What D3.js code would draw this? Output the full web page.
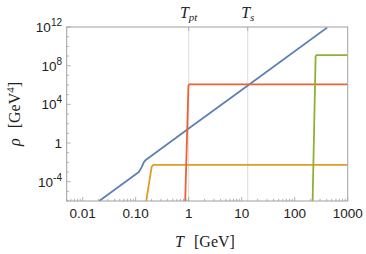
<!DOCTYPE html>
<html>
<head>
<meta charset="utf-8">
<script src="https://cdn.jsdelivr.net/npm/d3@7"></script>
<style>
body { margin: 0; background: #fff; }
svg { display: block; }
</style>
</head>
<body>
<svg width="366" height="254"></svg>
<script>
// valores (T em GeV, rho em GeV^4)
var azulT   = [0.0205, 0.05, 0.115, 0.13, 0.142, 0.155, 1, 10, 410];
var azulRho = [1e-6, 3.5e-5, 1.0e-3, 3.2e-3, 1.0e-2, 1.78e-2, 31, 3.1e5, 8.7e11];
var laranjaT   = [0.148, 0.2, 0.212, 0.225, 1000];
var laranjaRho = [1e-7, 3.2e-3, 5.2e-3, 5.5e-3, 5.5e-3];
var vermelhoT   = [0.85, 0.99, 1.02, 1000];
var vermelhoRho = [1e-7, 8e5, 1.15e6, 1.15e6];
var verdeT   = [216, 248, 256, 1000];
var verdeRho = [1e-7, 8e8, 1.26e9, 1.26e9];

var xTicks = [0.01, 0.1, 1, 10, 100, 1000];
var xTickLabels = ['0.01', '0.10', '1', '10', '100', '1000'];
var yTicks = [1e-4, 1, 1e4, 1e8, 1e12];
var yTickExp = ['-4', '', '4', '8', '12'];
var Tpt = 1, Ts = 13;

var svg = d3.select('svg');
var x = d3.scaleLog().domain([0.005, 1000]).range([66.7, 347.7]);
var y = d3.scaleLog().domain([1e-6, 1e12]).range([201, 27]);
var cinza = '#a0a0a0';

svg.append('clipPath').attr('id', 'area').append('rect')
    .attr('x', 66.7).attr('y', 27).attr('width', 281).attr('height', 174);

// linhas de grade em Tpt e Ts
[Tpt, Ts].forEach(function(t) {
    svg.append('line').attr('x1', x(t)).attr('x2', x(t)).attr('y1', 27).attr('y2', 201)
        .attr('stroke', '#dcdcdc').attr('stroke-width', 1);
});

//Curvas:
function curva(ts, rhos, cor) {
    var pts = ts.map(function(t, i) { return [t, rhos[i]]; });
    svg.append('path').datum(pts)
        .attr('clip-path', 'url(#area)')
        .attr('fill', 'none').attr('stroke', cor).attr('stroke-width', 1.8)
        .attr('stroke-linejoin', 'round')
        .attr('d', d3.line().x(function(d) { return x(d[0]); }).y(function(d) { return y(d[1]); }));
}
curva(azulT, azulRho, '#5e81b5');
curva(laranjaT, laranjaRho, '#e19c24');
curva(vermelhoT, vermelhoRho, '#eb6235');
curva(verdeT, verdeRho, '#8fb032');

// moldura
svg.append('rect').attr('x', 66.7).attr('y', 27).attr('width', 281).attr('height', 174)
    .attr('fill', 'none').attr('stroke', cinza).attr('stroke-width', 1);

// ticks eixo x (para dentro)
var xMenores = [];
for (var e = -3; e <= 2; e++) {
    for (var m = 1; m <= 9; m++) {
        var v = m * Math.pow(10, e);
        if (v >= 0.005 && v <= 1000) xMenores.push(v);
    }
}
xMenores.forEach(function(v) {
    var maior = xTicks.indexOf(v) >= 0 || Math.abs(Math.log10(v) % 1) < 1e-9;
    svg.append('line').attr('x1', x(v)).attr('x2', x(v)).attr('y1', 201).attr('y2', 201 - (maior ? 4 : 2.2))
        .attr('stroke', cinza).attr('stroke-width', 0.8);
});
svg.append('line').attr('x1', x(1000)).attr('x2', x(1000)).attr('y1', 201).attr('y2', 197)
    .attr('stroke', cinza).attr('stroke-width', 0.8);

xTicks.forEach(function(v, i) {
    svg.append('text').attr('x', x(v)).attr('y', 218)
        .attr('text-anchor', 'middle').attr('font-family', 'Liberation Sans, Arial, sans-serif')
        .attr('font-size', 13.5).attr('fill', '#222').text(xTickLabels[i]);
});

// ticks eixo y
for (var k = -6; k <= 12; k++) {
    var vy = Math.pow(10, k);
    var maiorY = yTicks.indexOf(vy) >= 0 || (k % 4 === 0 && k >= -4);
    svg.append('line').attr('x1', 66.7).attr('x2', 66.7 + (maiorY ? 4 : 2.2)).attr('y1', y(vy)).attr('y2', y(vy))
        .attr('stroke', cinza).attr('stroke-width', 0.8);
}
yTicks.forEach(function(v, i) {
    var t = svg.append('text').attr('x', 62).attr('y', y(v) + 5)
        .attr('text-anchor', 'end').attr('font-family', 'Liberation Sans, Arial, sans-serif')
        .attr('font-size', 13.5).attr('fill', '#222');
    if (yTickExp[i] === '') {
        t.text('1');
    } else {
        t.append('tspan').text('10');
        t.append('tspan').attr('dy', -6).attr('font-size', 10).text(yTickExp[i]);
    }
});

// ticks do topo em Tpt e Ts
[Tpt, Ts].forEach(function(t) {
    svg.append('line').attr('x1', x(t)).attr('x2', x(t)).attr('y1', 27).attr('y2', 31)
        .attr('stroke', cinza).attr('stroke-width', 0.8);
});
var serif = 'Liberation Serif, Times New Roman, serif';
var tpt = svg.append('text').attr('x', x(Tpt)).attr('y', 18).attr('text-anchor', 'middle')
    .attr('font-family', serif).attr('font-size', 16).attr('fill', '#222');
tpt.append('tspan').attr('font-style', 'italic').text('T');
tpt.append('tspan').attr('font-style', 'italic').attr('font-size', 11).attr('dy', 3).text('pt');
var tsl = svg.append('text').attr('x', x(Ts)).attr('y', 18).attr('text-anchor', 'middle')
    .attr('font-family', serif).attr('font-size', 16).attr('fill', '#222');
tsl.append('tspan').attr('font-style', 'italic').text('T');
tsl.append('tspan').attr('font-style', 'italic').attr('font-size', 11).attr('dy', 3).text('s');

// rotulos dos eixos
var xl = svg.append('text').attr('x', 205).attr('y', 247).attr('text-anchor', 'middle')
    .attr('font-family', serif).attr('font-size', 16).attr('fill', '#222');
xl.append('tspan').attr('font-style', 'italic').text('T');
xl.append('tspan').attr('dx', 10).text('[GeV]');

var yl = svg.append('text').attr('transform', 'translate(20,114) rotate(-90)').attr('text-anchor', 'middle')
    .attr('font-family', serif).attr('font-size', 16).attr('fill', '#222');
yl.append('tspan').attr('font-style', 'italic').text('ρ');
yl.append('tspan').attr('dx', 10).text('[GeV');
yl.append('tspan').attr('font-size', 11).attr('dy', -6).text('4');
yl.append('tspan').attr('dy', 6).text(']');
</script>
</body>
</html>
